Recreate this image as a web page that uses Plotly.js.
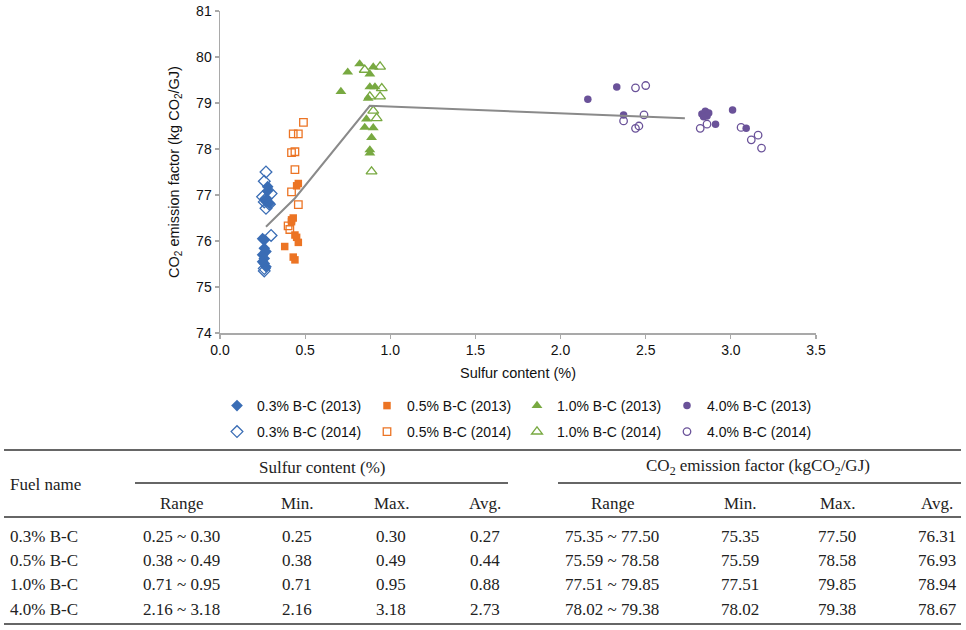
<!DOCTYPE html>
<html><head><meta charset="utf-8">
<script src="https://cdn.plot.ly/plotly-3.0.1.min.js"></script>
<style>html,body{margin:0;padding:0;background:#fff}#chart{width:966px;height:630px}</style>
</head><body><div id="chart"></div>
<script>
// ---- table / summary data ----
const fuelNames = ['0.3% B-C', '0.5% B-C', '1.0% B-C', '4.0% B-C'];
const sMin = [0.25, 0.38, 0.71, 2.16];
const sMax = [0.30, 0.49, 0.95, 3.18];
const sAvg = [0.27, 0.44, 0.88, 2.73];
const eMin = [75.35, 75.59, 77.51, 78.02];
const eMax = [77.50, 78.58, 79.85, 79.38];
const eAvg = [76.31, 76.93, 78.94, 78.67];
const years = ['2013', '2014'];

// ---- scatter data ----
const b13x = [0.25, 0.26, 0.26, 0.27, 0.25, 0.26, 0.25, 0.26, 0.27, 0.28, 0.28, 0.27, 0.29, 0.27];
const b13y = [76.05, 76.02, 75.84, 75.77, 75.70, 75.62, 75.55, 75.51, 75.44, 77.18, 77.09, 76.90, 76.82, 76.86];
const b14x = [0.27, 0.26, 0.30, 0.25, 0.27, 0.26, 0.27, 0.29, 0.30, 0.26, 0.26];
const b14y = [77.50, 77.30, 77.03, 76.96, 76.92, 76.85, 76.71, 76.80, 76.12, 75.40, 75.35];

const o13x = [0.46, 0.45, 0.42, 0.43, 0.42, 0.44, 0.45, 0.46, 0.38, 0.43, 0.44];
const o13y = [77.25, 77.20, 76.46, 76.50, 76.42, 76.13, 76.08, 75.97, 75.88, 75.65, 75.59];
const o14x = [0.49, 0.43, 0.46, 0.42, 0.44, 0.44, 0.42, 0.46, 0.40, 0.41];
const o14y = [78.58, 78.33, 78.33, 77.92, 77.94, 77.55, 77.07, 76.79, 76.33, 76.25];

const g13x = [0.82, 0.75, 0.71, 0.90, 0.88, 0.88, 0.91, 0.87, 0.86, 0.85, 0.90, 0.89, 0.88, 0.88];
const g13y = [79.85, 79.67, 79.25, 79.78, 79.63, 79.35, 79.35, 79.10, 78.65, 78.47, 78.46, 78.25, 77.98, 77.91];
const g14x = [0.94, 0.85, 0.95, 0.94, 0.88, 0.90, 0.92, 0.89];
const g14y = [79.79, 79.72, 79.32, 79.14, 79.14, 78.83, 78.67, 77.51];

const p13x = [2.16, 2.33, 2.37, 2.83, 2.85, 2.86, 2.84, 2.87, 2.91, 3.01, 3.09];
const p13y = [79.08, 79.35, 78.74, 78.76, 78.82, 78.72, 78.70, 78.78, 78.54, 78.85, 78.45];
const p14x = [2.44, 2.50, 2.37, 2.49, 2.44, 2.46, 2.82, 2.86, 3.06, 3.12, 3.16, 3.18];
const p14y = [79.33, 79.38, 78.61, 78.74, 78.45, 78.50, 78.45, 78.54, 78.47, 78.20, 78.30, 78.02];

const xTicks = [0, 0.5, 1.0, 1.5, 2.0, 2.5, 3.0, 3.5];
const yTicks = [74, 75, 76, 77, 78, 79, 80, 81];

// ---- styles ----
const colors = ['#3a6db5', '#ec7424', '#78a941', '#6a5299'];
const symbols = ['diamond', 'square', 'triangle-up', 'circle'];
const sizes = [9, 7.5, 9.5, 7.5];
const series13 = [[b13x, b13y], [o13x, o13y], [g13x, g13y], [p13x, p13y]];
const series14 = [[b14x, b14y], [o14x, o14y], [g14x, g14y], [p14x, p14y]];

const traces = [];
series13.forEach((s, i) => traces.push({
  type: 'scatter', mode: 'markers', x: s[0], y: s[1],
  name: fuelNames[i] + ' (' + years[0] + ')', legend: 'legend',
  marker: {symbol: symbols[i], color: colors[i], size: sizes[i], line: {width: 0}}
}));
series14.forEach((s, i) => traces.push({
  type: 'scatter', mode: 'markers', x: s[0], y: s[1],
  name: fuelNames[i] + ' (' + years[1] + ')', legend: 'legend2',
  marker: {symbol: symbols[i] + '-open', color: colors[i], size: sizes[i], line: {width: 1.3, color: colors[i]}}
}));
traces.push({
  type: 'scatter', mode: 'lines', x: sAvg, y: eAvg, showlegend: false,
  line: {color: '#8a8a8a', width: 2}, hoverinfo: 'skip'
});

// pixel -> paper helpers (plot area 220..816 x 11..333)
const L = 220, R = 816, T = 11, B = 333;
const px = p => (p - L) / (R - L);
const py = p => (B - p) / (B - T);

const serif = 'Liberation Serif, Times New Roman, serif';
const tFont = {family: serif, size: 17, color: '#222'};
const annotations = [];
function txt(text, x, y, anchor) {
  annotations.push({text: text, x: px(x), y: py(y), xref: 'paper', yref: 'paper',
    xanchor: anchor || 'center', yanchor: 'middle', showarrow: false, font: tFont});
}
txt('Sulfur content (%)', 322, 467);
txt('CO<sub>2</sub> emission factor (kgCO<sub>2</sub>/GJ)', 758, 467);
txt('Fuel name', 8, 484, 'left');
const colX = [181, 297, 391, 485, 612, 740, 837, 937];
const heads = ['Range', 'Min.', 'Max.', 'Avg.', 'Range', 'Min.', 'Max.', 'Avg.'];
heads.forEach((h, i) => txt(h, colX[i], 503));
const rowY = [536, 560, 584, 609];
fuelNames.forEach((f, r) => {
  txt(f, 8, rowY[r], 'left');
  const vals = [
    sMin[r].toFixed(2) + ' ~ ' + sMax[r].toFixed(2), sMin[r].toFixed(2), sMax[r].toFixed(2), sAvg[r].toFixed(2),
    eMin[r].toFixed(2) + ' ~ ' + eMax[r].toFixed(2), eMin[r].toFixed(2), eMax[r].toFixed(2), eAvg[r].toFixed(2)
  ];
  vals.forEach((v, i) => txt(v, colX[i], rowY[r]));
});

const shapes = [];
function rule(x0, x1, y) {
  shapes.push({type: 'line', xref: 'paper', yref: 'paper', x0: px(x0), x1: px(x1), y0: py(y), y1: py(y),
    line: {color: '#333', width: 1.5}});
}
rule(4, 961, 450);
rule(135, 508, 483);
rule(558, 961, 483);
rule(4, 961, 517);
rule(4, 961, 624);

const axisCommon = {
  showgrid: false, zeroline: false, showline: true, linecolor: '#a9a9a9', linewidth: 1.5,
  ticks: 'outside', ticklen: 4, tickcolor: '#a9a9a9', tickwidth: 1.2,
  tickfont: {size: 14, color: '#111'}, automargin: false
};

const legendCommon = {
  orientation: 'h', xanchor: 'left', yanchor: 'middle', x: px(217),
  entrywidth: 105, entrywidthmode: 'pixels', font: {size: 14, color: '#111'},
  bgcolor: 'rgba(0,0,0,0)', itemclick: false, itemdoubleclick: false
};

const layout = {
  width: 966, height: 630,
  margin: {l: L, r: 966 - R, t: T, b: 630 - B},
  paper_bgcolor: '#fff', plot_bgcolor: '#fff',
  font: {family: 'Liberation Sans, Arial, sans-serif', size: 14, color: '#111'},
  xaxis: Object.assign({}, axisCommon, {range: [0, 3.5], tickvals: xTicks, tickformat: '.1f',
    title: {text: 'Sulfur content (%)', font: {size: 14.5}, standoff: 10}}),
  yaxis: Object.assign({}, axisCommon, {range: [74, 81], tickvals: yTicks,
    title: {text: 'CO<sub>2</sub> emission factor (kg CO<sub>2</sub>/GJ)', font: {size: 14.5}, standoff: 13}}),
  legend: Object.assign({}, legendCommon, {y: py(406)}),
  legend2: Object.assign({}, legendCommon, {y: py(432)}),
  annotations: annotations,
  shapes: shapes,
  showlegend: true
};

Plotly.newPlot('chart', traces, layout, {displayModeBar: false, staticPlot: true});
</script>
</body></html>
